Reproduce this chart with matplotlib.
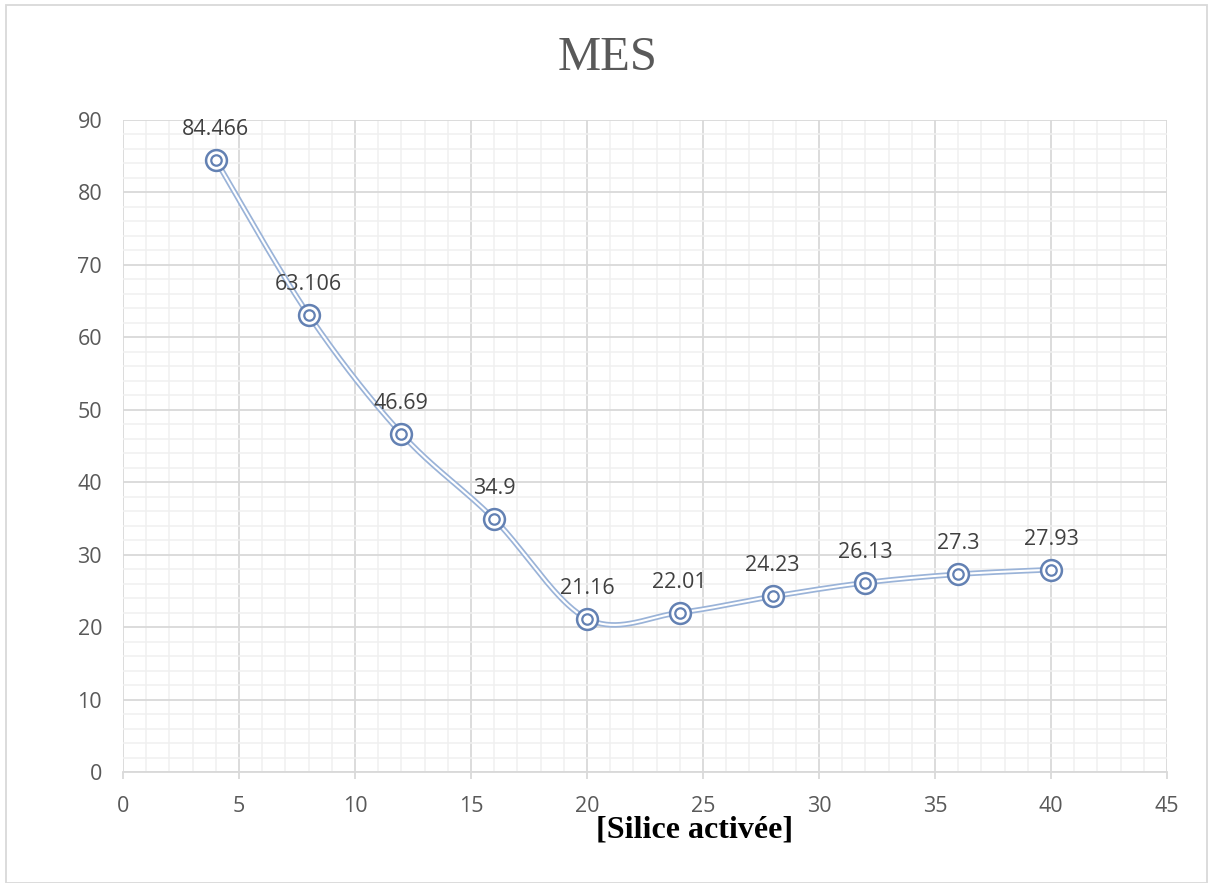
import matplotlib.pyplot as plt
import numpy as np
from matplotlib.patches import Rectangle
from matplotlib.ticker import MultipleLocator

# Data
silice = [4, 8, 12, 16, 20, 24, 28, 32, 36, 40]
mes = [84.466, 63.106, 46.69, 34.9, 21.16, 22.01, 24.23, 26.13, 27.3, 27.93]
labels = ["84.466", "63.106", "46.69", "34.9", "21.16", "22.01", "24.23", "26.13", "27.3", "27.93"]

W, H = 1208, 883
fig = plt.figure(figsize=(W / 100, H / 100), dpi=100)

# plot area in pixels: x 123..1167, y 120..772
ax = fig.add_axes([123 / W, 1 - 772 / H, (1167 - 123) / W, (772 - 120) / H])


def smooth(xs, ys, n=40):
    # Excel-like smoothed line: Bezier segments with Catmull-Rom control points
    px = np.asarray(xs, float)
    py = np.asarray(ys, float)
    ox, oy = [], []
    m = len(px)
    for i in range(m - 1):
        i0 = max(i - 1, 0)
        i3 = min(i + 2, m - 1)
        c1x = px[i] + (px[i + 1] - px[i0]) / 6
        c1y = py[i] + (py[i + 1] - py[i0]) / 6
        c2x = px[i + 1] - (px[i3] - px[i]) / 6
        c2y = py[i + 1] - (py[i3] - py[i]) / 6
        t = np.linspace(0, 1, n)
        b0 = (1 - t) ** 3
        b1 = 3 * (1 - t) ** 2 * t
        b2 = 3 * (1 - t) * t ** 2
        b3 = t ** 3
        ox.extend(b0 * px[i] + b1 * c1x + b2 * c2x + b3 * px[i + 1])
        oy.extend(b0 * py[i] + b1 * c1y + b2 * c2y + b3 * py[i + 1])
    return ox, oy


sx, sy = smooth(silice, mes)
ax.plot(sx, sy, color="#9AB3D8", lw=4.0, solid_capstyle="round", zorder=3)
ax.plot(sx, sy, color="white", lw=1.5, solid_capstyle="round", zorder=4)

ax.plot(silice, mes, ls="none", marker="o", ms=15, mfc="white", mec="#6381B3", mew=1.8, zorder=5)
ax.plot(silice, mes, ls="none", marker="o", ms=7.5, mfc="white", mec="#6381B3", mew=1.6, zorder=6)

for x, y, s in zip(silice, mes, labels):
    ax.annotate(s, (x, y), xytext=(0, 18), textcoords="offset points", ha="center", va="baseline",
                fontsize=15.5, color="#404040", family="Open Sans", zorder=7)

ax.set_xlim(0, 45)
ax.set_ylim(0, 90)
ax.xaxis.set_major_locator(MultipleLocator(5))
ax.xaxis.set_minor_locator(MultipleLocator(1))
ax.yaxis.set_major_locator(MultipleLocator(10))
ax.yaxis.set_minor_locator(MultipleLocator(2))
ax.grid(which="major", color="#D9D9D9", lw=1.3)
ax.grid(which="minor", color="#F0F0F0", lw=1.1)
ax.set_axisbelow(True)

for sp in ["top", "right", "left"]:
    ax.spines[sp].set_visible(False)
ax.spines["bottom"].set_color("#D9D9D9")
ax.spines["bottom"].set_linewidth(1.3)

ax.tick_params(axis="x", which="major", length=5, width=1.3, color="#D9D9D9", pad=12,
               labelsize=15.5, labelcolor="#595959")
ax.tick_params(axis="x", which="minor", length=0)
ax.tick_params(axis="y", which="both", length=0, pad=15, labelsize=15.5, labelcolor="#595959")
for lab in ax.get_xticklabels() + ax.get_yticklabels():
    lab.set_family("Open Sans")

fig.text(608 / W, 1 - 58 / H, "MES", ha="center", va="center", fontsize=35,
         color="#595959", family="Liberation Serif")
fig.text(695 / W, 1 - 830 / H, "[Silice activée]", ha="center", va="center", fontsize=23,
         fontweight="bold", color="black", family="Liberation Serif")

fig.patches.append(Rectangle((6 / W, 0), (1207 - 6) / W, 1 - 5 / H, transform=fig.transFigure,
                             fill=False, edgecolor="#D9D9D9", lw=1.3))

fig.savefig("out.png", dpi=100)
